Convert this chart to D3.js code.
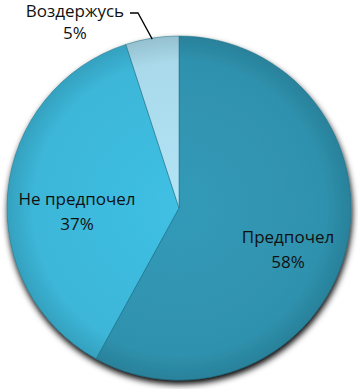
<html>
<script src="https://d3js.org/d3.v7.min.js"></script>
<style>
  body { margin:0; background:#fff; }
  text { font-family:"Open Sans", sans-serif; font-size:17px; fill:#111; }
</style>
<body>
<svg id="plot"></svg>
<script>
// chart values
var categories = ["Предпочел", "Не предпочел", "Воздержусь"];
var values = [58, 37, 5];
var colors = ["#2f92ae", "#3cb6d8", "#a9d9ea"];

var screen = {width:358, height:389};
var center = {x:179, y:208};
var radius = 172;

var svg = d3.select("#plot")
    .attr("width",screen.width)
    .attr("height",screen.height);

var defs = svg.append("defs");

// soft shadow below the pie
var filt = defs.append("filter").attr("id","shadow")
    .attr("x","-10%").attr("y","-10%").attr("width","130%").attr("height","130%");
filt.append("feGaussianBlur").attr("in","SourceAlpha").attr("stdDeviation",3);
filt.append("feOffset").attr("dx",1).attr("dy",4).attr("result","b");
var fm = filt.append("feMerge");
fm.append("feMergeNode").attr("in","b");
fm.append("feMergeNode").attr("in","SourceGraphic");

// shading gradient per slice
colors.forEach(function(c,i)
{
    var gr = defs.append("radialGradient").attr("id","grad"+i)
        .attr("gradientUnits","userSpaceOnUse")
        .attr("cx",0).attr("cy",0).attr("r",radius);
    gr.append("stop").attr("offset","0%").attr("stop-color",d3.color(c).brighter(0.15));
    gr.append("stop").attr("offset","85%").attr("stop-color",c);
    gr.append("stop").attr("offset","100%").attr("stop-color",d3.color(c).darker(0.35));
});

var g = svg.append("g")
    .attr("transform","translate("+center.x+","+center.y+")");

var pie = d3.pie().sort(null).value(function(d){ return d; });
var arcs = pie(values);

var arc = d3.arc().innerRadius(0).outerRadius(radius);

var slices = g.append("g").attr("filter","url(#shadow)");
slices.selectAll("path")
    .data(arcs)
    .enter()
    .append("path")
    .attr("d",arc)
    .attr("fill",function(d,i){ return "url(#grad"+i+")"; })
    .attr("stroke","#1f6f86")
    .attr("stroke-opacity",0.5)
    .attr("stroke-width",1);

// labels
var labelPos = [
    {x:288, y:243, dy:25},
    {x:77, y:205, dy:25},
    {x:75, y:17, dy:22}
];

var labels = svg.append("g");
arcs.forEach(function(d,i)
{
    var t = labels.append("text")
        .attr("text-anchor","middle")
        .attr("x",labelPos[i].x)
        .attr("y",labelPos[i].y);
    t.append("tspan").attr("x",labelPos[i].x).text(categories[i]);
    t.append("tspan").attr("x",labelPos[i].x).attr("dy",labelPos[i].dy)
        .text(Math.round(d.data)+"%");
});

// leader line for small slice
var small = arcs[2];
var mid = (small.startAngle+small.endAngle)/2;
var px = center.x + Math.sin(mid)*(radius-1);
var py = center.y - Math.cos(mid)*(radius-1);
svg.append("polyline")
    .attr("points",[[130,13],[138,13],[px,py]].map(function(p){return p.join(",");}).join(" "))
    .attr("fill","none")
    .attr("stroke","#000")
    .attr("stroke-width",1.3);
</script>
</body>
</html>
